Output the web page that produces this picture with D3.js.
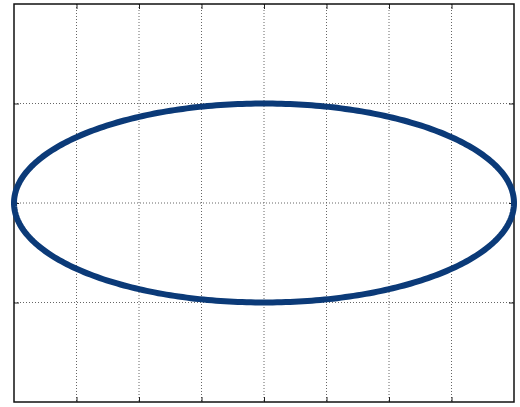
<!DOCTYPE html>
<html>
<head>
	<meta charset="utf-8">
	<script src="https://cdn.jsdelivr.net/npm/d3@7"></script>
	<style>
		body { margin: 0; background: #fff; }
		.grid line { stroke: #666; stroke-width: 1; stroke-dasharray: 1,2; }
	</style>
</head>
<body>
	<svg></svg>
	<script>
		var width = 520;
		var height = 407;
		var margins = { "left": 14, "right": 6, "top": 4, "bottom": 5 };

		// axis ranges and tick positions
		var xDomain = [-4, 4];
		var yDomain = [-2, 2];
		var xTicks = [-4, -3, -2, -1, 0, 1, 2, 3, 4];
		var yTicks = [-2, -1, 0, 1, 2];

		// ellipse: centre and semi-axes
		var centerX = 0;
		var centerY = 0;
		var radiusX = 4;
		var radiusY = 1;
		var samples = 361;

		var w = width - margins.left - margins.right;
		var h = height - margins.top - margins.bottom;

		var svg = d3.select("svg")
			.attr("width", width)
			.attr("height", height);

		var x = d3.scaleLinear().domain(xDomain).range([0, w]);
		var y = d3.scaleLinear().domain(yDomain).range([h, 0]);

		var g = svg.append("g")
			.attr("transform", "translate(" + margins.left + "," + margins.top + ")");

		var inner = xTicks.slice(1, -1);
		var innerY = yTicks.slice(1, -1);

		g.append("g").attr("class", "grid")
			.selectAll("line").data(inner).enter().append("line")
			.attr("x1", d => x(d)).attr("x2", d => x(d))
			.attr("y1", 0).attr("y2", h);
		g.append("g").attr("class", "grid")
			.selectAll("line").data(innerY).enter().append("line")
			.attr("y1", d => y(d)).attr("y2", d => y(d))
			.attr("x1", 0).attr("x2", w);

		// inward ticks on all four sides, no labels
		var tk = 5;
		var axes = [
			d3.axisBottom(x).tickValues(inner).tickSize(-tk).tickFormat(""),
			d3.axisTop(x).tickValues(inner).tickSize(-tk).tickFormat(""),
			d3.axisLeft(y).tickValues(innerY).tickSize(-tk).tickFormat(""),
			d3.axisRight(y).tickValues(innerY).tickSize(-tk).tickFormat("")
		];
		var shifts = ["0," + h, "0,0", "0,0", w + ",0"];
		axes.forEach(function (a, i) {
			var ag = g.append("g").attr("transform", "translate(" + shifts[i] + ")").call(a);
			ag.select(".domain").remove();
			ag.selectAll("line").attr("stroke", "#222");
		});

		g.append("rect")
			.attr("x", 0).attr("y", 0)
			.attr("width", w).attr("height", h)
			.attr("fill", "none")
			.attr("stroke", "#111")
			.attr("stroke-width", 1.5);

		var pts = d3.range(samples).map(function (i) {
			var t = 2 * Math.PI * i / (samples - 1);
			return [centerX + radiusX * Math.cos(t), centerY + radiusY * Math.sin(t)];
		});

		var line = d3.line()
			.x(d => x(d[0]))
			.y(d => y(d[1]));

		g.append("path")
			.datum(pts)
			.attr("d", line)
			.attr("fill", "none")
			.attr("stroke", "#0b3a78")
			.attr("stroke-width", 6);
	</script>
</body>
</html>
